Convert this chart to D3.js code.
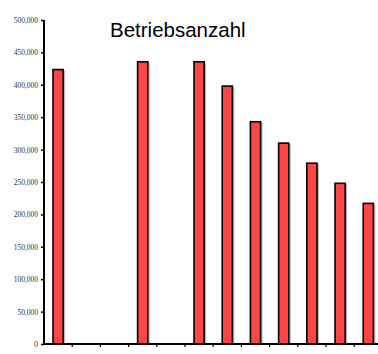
<!DOCTYPE html>
<html>
<head>
<meta charset="utf-8">
<script src="https://cdn.jsdelivr.net/npm/d3@7"></script>
<style>
  body { margin: 0; background: #fff; }
  .tick text { font-family: "Liberation Serif", serif; font-size: 7.5px; fill: #333; }
</style>
</head>
<body>
<div id="chart"></div>
<script>
// data (12 slots, three of them empty)
const categories = ["1", "2", "3", "4", "5", "6", "7", "8", "9", "10", "11", "12"];
const betriebe = [423500, null, null, 435500, null, 435500, 398000, 343000, 310000, 279000, 248000, 217000];
const yTicks = [0, 50000, 100000, 150000, 200000, 250000, 300000, 350000, 400000, 450000, 500000];

const width = 378, height = 354;
const margin = { top: 20, left: 44, bottom: 10 };
const step = 28.2;

const svg = d3.select("#chart").append("svg")
  .attr("width", width)
  .attr("height", height);

const x = d3.scaleBand()
  .domain(categories)
  .range([margin.left, margin.left + step * categories.length]);

const y = d3.scaleLinear()
  .domain([0, 500000])
  .range([height - margin.bottom, margin.top]);

const data = categories.map((c, i) => ({ cat: c, value: betriebe[i] }))
  .filter(d => d.value != null);

const barW = x.bandwidth() * 0.36;

// shadow
svg.append("g").selectAll("rect")
  .data(data)
  .join("rect")
  .attr("x", d => x(d.cat) + (x.bandwidth() - barW) / 2 + 2)
  .attr("y", d => y(d.value) + 1)
  .attr("width", barW)
  .attr("height", d => y(0) - y(d.value))
  .attr("fill", "#bbb");

svg.append("g").selectAll("rect")
  .data(data)
  .join("rect")
  .attr("x", d => x(d.cat) + (x.bandwidth() - barW) / 2)
  .attr("y", d => y(d.value))
  .attr("width", barW)
  .attr("height", d => y(0) - y(d.value))
  .attr("fill", "#ff4646")
  .attr("stroke", "#000")
  .attr("stroke-width", 1.6);

// y axis
const yAxis = d3.axisLeft(y)
  .tickValues(yTicks)
  .tickSize(3)
  .tickPadding(3)
  .tickFormat(d3.format(","));

svg.append("g")
  .attr("transform", `translate(${margin.left},0)`)
  .call(yAxis)
  .call(g => g.select(".domain").attr("stroke-width", 2).attr("d", `M0,${y(0)}V${y(500000)}`))
  .call(g => g.selectAll(".tick line").attr("stroke-width", 1.5));

// x axis: ticks sit on the band boundaries
const bounds = categories.slice(1).map(c => x(c));
svg.append("line")
  .attr("x1", margin.left).attr("x2", width)
  .attr("y1", y(0)).attr("y2", y(0))
  .attr("stroke", "#000").attr("stroke-width", 2);

svg.append("g").selectAll("line")
  .data(bounds)
  .join("line")
  .attr("x1", d => d).attr("x2", d => d)
  .attr("y1", y(0)).attr("y2", y(0) + 3)
  .attr("stroke", "#000").attr("stroke-width", 1.2);

svg.append("text")
  .attr("x", 110)
  .attr("y", 37)
  .attr("font-family", "Liberation Sans, Arial, sans-serif")
  .attr("font-size", 20.5)
  .attr("fill", "#000")
  .text("Betriebsanzahl");
</script>
</body>
</html>
